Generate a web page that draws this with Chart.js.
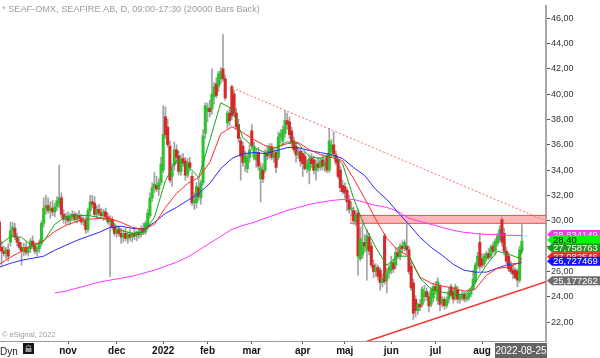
<!DOCTYPE html>
<html>
<head>
<meta charset="utf-8">
<script src="https://cdn.jsdelivr.net/npm/chart.js@4"></script>
<style>
html,body{margin:0;padding:0;background:#fff;}
#wrap{width:600px;height:358px;}
canvas{display:block;}
</style>
</head>
<body>
<div id="wrap"><canvas id="c" width="600" height="358"></canvas></div>
<script>
// ---------- DATA (daily bars, index 0 = mid-Sep 2021, index 236 = 2022-08-25) ----------
const TITLE = '* SEAF-OMX, SEAFIRE AB, D, 09:00-17:30 (20000 Bars Back)';
const LAST_DATE = '2022-08-25';

const OPEN = [
29.9,27.9,27.6,27.4,27.7,28.3,29.2,29.4,28.7,28.3,
27.9,27.6,27.9,27.5,27.8,28.4,28.0,27.6,27.8,28.2,
29.8,31.0,31.2,30.8,31.0,30.7,31.1,31.3,31.8,30.5,
30.1,30.3,30.0,30.3,30.5,30.1,30.4,30.2,29.9,30.0,
29.3,30.8,31.5,31.4,30.5,30.9,30.6,30.4,30.7,30.3,
29.9,30.1,29.5,29.0,29.3,29.0,28.7,29.0,28.6,28.9,
28.7,29.0,28.8,29.1,28.9,29.4,29.1,29.5,30.4,31.8,
32.6,32.8,32.5,33.0,34.0,38.2,37.4,35.9,33.5,34.4,
35.6,35.1,33.9,34.9,34.7,33.6,34.6,33.5,31.4,31.4,
32.6,31.8,33.0,36.9,38.6,38.9,38.8,39.8,40.8,40.6,
41.2,42.0,41.2,37.7,38.5,40.6,40.0,38.5,37.6,36.3,
35.9,34.6,34.1,35.0,37.1,35.0,34.8,35.4,33.3,34.0,
34.0,35.3,35.2,35.8,35.0,35.4,35.0,36.6,36.3,36.9,
37.9,37.8,37.1,36.3,35.9,35.2,35.5,35.3,35.1,34.1,
34.0,34.9,34.8,34.0,34.5,34.2,34.8,34.3,35.1,34.0,
35.5,36.0,35.2,34.8,34.0,32.8,32.7,32.4,31.6,30.9,
30.8,29.9,30.6,27.0,27.3,28.3,27.7,28.7,28.0,26.5,
26.0,26.3,26.1,25.1,28.8,25.3,25.9,26.1,26.7,26.5,
27.5,27.2,28.0,27.8,28.0,27.7,26.4,25.1,23.8,22.9,
23.4,23.4,24.0,24.4,24.0,23.4,23.9,24.8,23.7,24.8,
23.5,23.8,23.3,23.8,24.8,24.4,23.9,24.5,23.8,23.9,
24.2,23.8,23.9,24.2,24.6,25.2,26.5,28.3,27.0,26.6,
27.0,27.4,27.2,28.0,27.6,28.2,28.5,30.1,29.0,27.6,
27.2,26.5,26.1,26.1,26.0,25.3,27.6];

const HIGH = [
30.2,28.4,28.0,27.9,28.2,29.9,29.9,29.8,29.0,28.6,
28.3,28.2,28.3,28.0,28.6,28.8,28.3,28.0,28.5,30.0,
31.8,32.0,31.8,31.5,31.6,31.4,31.9,34.4,32.2,30.9,
30.6,30.7,30.6,30.8,30.7,30.6,30.8,30.5,30.3,30.3,
31.0,32.0,32.0,31.9,31.2,31.3,31.0,30.9,31.0,30.6,
30.4,30.3,29.8,29.6,29.6,29.4,29.3,29.4,29.1,29.3,
29.1,29.4,29.2,29.4,29.6,29.8,30.0,30.9,32.2,33.0,
33.8,33.5,33.3,35.0,39.1,39.0,38.0,36.3,34.5,36.2,
36.0,35.5,35.2,35.3,35.0,34.9,35.0,33.8,32.2,33.0,
33.4,33.2,37.2,39.3,39.3,39.5,42.0,40.9,41.3,41.8,
42.1,44.7,41.5,38.7,38.9,40.7,40.3,38.9,38.0,36.6,
36.2,35.5,35.3,36.0,37.6,36.2,35.7,35.8,34.6,34.5,
35.6,35.9,36.1,36.1,35.6,35.6,37.0,37.2,37.5,38.7,
38.5,38.2,37.4,36.6,36.2,35.8,35.7,35.5,35.4,34.8,
35.2,35.3,35.1,34.8,35.0,35.0,35.2,34.9,35.3,37.3,
36.4,37.0,35.5,35.0,34.3,33.2,33.0,32.6,32.0,31.5,
31.1,30.8,30.9,29.5,30.0,28.9,29.3,29.0,28.3,26.9,
26.6,26.5,26.3,25.8,29.0,26.2,26.5,27.2,27.0,27.9,
27.9,28.2,28.4,28.5,29.9,28.0,26.7,25.4,24.1,23.5,
23.8,24.8,24.9,24.7,24.3,24.7,25.0,25.2,25.5,25.0,
24.0,24.0,24.0,24.7,25.0,24.7,25.0,24.8,24.2,24.4,
24.4,24.2,24.4,24.7,26.1,26.7,27.5,29.0,27.4,27.4,
27.6,27.8,28.1,28.3,28.6,29.0,29.6,30.3,29.4,27.9,
27.5,26.8,26.5,26.3,26.2,28.0,29.7];

const LOW = [
27.5,26.5,27.2,27.0,26.8,28.0,28.8,28.5,28.0,27.7,
26.5,27.2,27.3,27.2,27.5,27.8,27.4,27.2,27.5,28.0,
29.5,30.5,30.6,30.2,30.4,30.3,30.8,31.0,30.2,29.8,
29.7,29.8,29.7,30.0,29.9,29.8,30.0,29.7,29.6,29.0,
29.1,30.5,31.0,30.3,30.2,30.4,30.2,30.0,30.1,29.7,
25.6,29.3,28.8,28.7,28.8,28.2,28.3,28.4,28.2,28.4,
28.3,28.5,28.4,28.6,28.7,28.9,28.9,29.3,30.2,31.5,
32.2,32.3,32.0,32.8,33.8,36.5,35.8,33.0,32.7,34.0,
34.5,33.6,33.6,34.3,33.2,33.4,33.9,31.2,30.9,31.0,
31.6,31.3,32.8,36.5,37.8,38.2,38.4,39.2,39.7,40.2,
40.8,41.0,39.5,37.3,37.5,38.0,38.2,37.2,36.2,33.2,
34.3,33.9,33.8,34.6,35.6,34.8,34.2,34.0,31.5,33.0,
33.8,34.8,34.9,34.8,34.6,33.8,34.8,36.1,36.0,36.6,
37.2,36.5,35.8,35.4,34.6,34.9,34.3,33.5,34.0,33.8,
32.9,34.2,33.7,33.2,33.9,34.0,34.0,33.9,33.8,33.8,
35.0,35.1,34.4,33.3,32.3,32.1,31.8,30.8,30.6,30.4,
29.7,29.6,25.7,26.8,27.0,27.5,25.3,27.3,26.3,25.5,
25.6,25.3,24.5,24.8,25.0,24.3,25.5,25.8,25.9,26.2,
27.0,26.9,27.5,27.6,27.4,25.8,24.5,22.2,22.4,22.6,
22.9,23.2,23.6,23.7,22.8,23.2,23.6,24.2,23.4,22.9,
23.2,23.0,23.1,23.5,24.0,23.5,23.7,23.5,23.5,23.7,
23.6,23.6,23.7,24.0,24.5,25.0,26.2,26.1,26.3,26.4,
26.8,26.9,27.0,27.4,27.3,28.0,28.3,28.0,27.3,26.6,
26.0,25.8,25.4,25.4,24.8,25.1,27.4];

const CLOSE = [
27.9,27.6,27.4,27.7,27.2,29.2,29.5,28.7,28.3,27.9,
27.6,27.9,27.5,27.8,28.4,28.0,27.6,27.8,28.2,29.8,
31.0,31.2,30.8,31.0,30.7,31.1,31.6,31.8,30.5,30.1,
30.3,30.0,30.3,30.5,30.1,30.4,30.2,29.9,30.1,29.3,
30.8,31.5,31.3,30.5,30.9,30.6,30.4,30.7,30.3,29.9,
30.1,29.5,29.0,29.3,29.0,28.7,29.0,28.6,28.9,28.7,
29.0,28.8,29.1,28.9,29.4,29.1,29.8,30.6,31.8,32.6,
32.9,32.5,33.0,34.5,36.8,36.8,36.0,33.2,34.0,35.6,
35.0,33.9,34.9,34.6,33.6,34.6,34.2,31.4,31.6,32.7,
31.9,33.0,36.7,39.1,38.9,38.6,40.0,40.6,39.9,41.6,
41.8,41.2,39.7,38.5,37.9,38.3,38.5,37.4,36.5,35.1,
34.6,35.2,35.0,35.6,35.9,35.9,35.4,34.3,34.2,33.3,
35.3,35.1,35.8,35.0,35.3,34.2,36.6,36.9,37.2,37.9,
37.6,36.8,36.2,35.6,35.2,35.4,34.7,34.5,34.1,34.5,
34.9,34.5,34.0,34.5,34.2,34.7,34.3,34.6,34.0,36.3,
36.0,35.3,34.6,33.5,32.6,32.3,32.2,31.5,30.9,31.0,
30.0,30.5,27.2,28.6,28.3,28.0,28.8,27.6,26.5,26.0,
26.3,25.6,25.1,25.4,25.2,25.9,26.3,26.7,26.2,27.5,
27.2,28.0,27.8,28.3,27.7,26.0,24.7,22.7,22.9,23.4,
23.2,24.6,24.4,24.0,23.3,24.5,24.8,24.5,25.2,23.4,
23.8,23.3,23.8,24.4,24.1,23.8,24.8,23.8,24.0,24.2,
23.8,24.0,24.3,24.6,25.4,26.5,27.2,26.4,26.5,27.2,
27.4,27.1,27.9,27.6,28.4,28.8,29.3,28.3,27.6,26.8,
26.2,26.0,25.8,25.5,25.3,27.7,28.4];

// moving averages, read at these bar indices
const MA_IDX = [0,5,10,15,20,25,30,35,40,45,50,55,60,65,70,75,80,85,90,95,100,105,110,115,120,125,130,135,140,145,150,155,160,165,170,175,180,185,190,195,200,205,210,215,220,225,230,235,236];
const MA_GREEN = [
28.06,28.77,28.69,27.98,28.37,29.71,30.34,30.42,30.42,30.26,
30.03,29.24,29.00,29.08,30.26,33.18,34.75,34.36,33.41,36.32,
39.31,38.84,36.56,35.77,35.38,35.77,36.24,36.09,35.06,34.91,
35.22,34.51,31.76,29.56,27.90,26.49,27.20,27.20,25.46,24.60,
24.36,24.21,24.13,25.15,26.49,27.59,27.35,27.04,27.76];
const MA_RED = [
26.56,27.12,27.59,28.06,28.45,29.16,29.63,29.95,30.11,30.18,
30.18,29.87,29.48,29.32,29.71,31.05,32.15,32.94,33.41,34.59,
36.87,37.42,36.95,36.40,35.93,35.77,36.09,36.17,35.61,35.22,
34.99,34.75,33.33,31.76,30.11,28.61,27.67,27.20,25.54,25.07,
24.84,24.68,24.44,24.60,25.70,26.25,26.33,26.70,27.08];
const MA_BLUE = [
26.33,26.64,26.88,27.04,27.20,27.67,28.06,28.45,28.77,29.08,
29.48,29.56,29.40,29.32,29.87,30.58,31.05,31.60,32.15,32.94,
34.12,34.91,35.30,35.38,35.30,35.54,35.77,35.77,35.54,35.38,
35.22,34.91,34.20,33.57,32.46,31.68,30.66,29.71,28.69,27.90,
27.27,26.56,26.09,25.94,25.94,26.25,26.56,26.64,26.73];
const MA_MAGENTA = [
null,null,null,null,null,24.29,24.44,24.68,24.91,25.15,
25.31,25.46,25.62,25.86,26.09,26.41,26.72,27.12,27.67,28.22,
28.77,29.32,29.63,29.87,30.19,30.50,30.81,31.05,31.29,31.45,
31.60,31.68,31.68,31.45,31.21,31.05,30.74,30.19,29.95,29.71,
29.48,29.24,29.08,29.00,28.92,28.92,28.85,28.83,28.83];

// drawn objects (bar index, price)
const RESIST_X = [105.1, 246.9], RESIST_Y = [40.49, 29.99];
const SUPPORT_X = [150, 246.9], SUPPORT_Y = [19.55, 25.177];
const ZONE_X = [158.4, 246.9], ZONE_LO = 29.79, ZONE_HI = 30.42;

// axes
const MONTH_IDX = [31,53,74,94,114,137,156,177,197,218];
const MONTH_LBL = ['nov','dec','2022','feb','mar','apr','maj','jun','jul','aug'];
const Y_TICKS = [22,24,26,28,30,32,34,36,38,40,42,44,46];
const Y_MIN = 20.505, Y_MAX = 46.92;

// price tags on the right axis
const TAG_VAL = [28.834149, 28.40, 27.758763, 27.082546, 26.727469, 25.177262];
const TAG_TXT = ['28,834149','28,40','27,758763','27,082546','26,727469','25,177262'];
const TAG_BG  = ['#ff33ff','#00ff00','#1e9a1e','#ff2020','#1010ff','#6e6e6e'];
const TAG_FG  = ['#ffffff','#000000','#ffffff','#ffffff','#ffffff','#ffffff'];

// ---------- BUILD ----------
const FONT = '"Liberation Sans", Arial, sans-serif';
const wickData = OPEN.map((o,i)=>({x:i, y:[LOW[i], HIGH[i]]}));
const bodyData = OPEN.map((o,i)=>({x:i, y:[o, CLOSE[i]]}));
const bodyColors = OPEN.map((o,i)=> CLOSE[i] >= o ? '#2bc42b' : '#d42a2a');
const maPts = arr => MA_IDX.map((x,k)=>({x, y: arr[k]}));
const line = (data, color, order, extra) => Object.assign({
  type:'line', data, borderColor: color, borderWidth: 1, pointRadius: 0,
  fill: false, tension: 0, order
}, extra || {});

const overlay = {
  id:'overlay',
  afterDraw(chart){
    const c = chart.ctx, ys = chart.scales.y;
    c.save();
    c.textAlign='left'; c.textBaseline='alphabetic';
    c.fillStyle='#9c9c9c';
    c.font = '9.2px ' + FONT;
    c.fillText(TITLE, 2, 12);
    c.font = '7.5px ' + FONT;
    c.fillText('\u00a9 eSignal, 2022', 2, 337);
    // Dyn + lock
    c.fillStyle='#222';
    c.font = '10px ' + FONT;
    c.fillText('Dyn', 0, 355);
    c.fillStyle='#151515';
    c.fillRect(23, 343, 11, 11);
    c.strokeStyle='#9a9a9a'; c.lineWidth=1.2;
    c.beginPath(); c.arc(28.5, 347.5, 2, Math.PI, 0); c.stroke();
    c.fillStyle='#9a9a9a'; c.fillRect(25.5, 348, 6, 4);
    // last date box
    c.fillStyle='#646464';
    c.fillRect(495, 343, 52, 15);
    c.fillStyle='#ffffff';
    c.font = '10px ' + FONT;
    c.textAlign='center';
    c.fillText(LAST_DATE, 521, 354);
    // tags
    c.textAlign='left'; c.textBaseline='middle';
    c.font = '9.5px ' + FONT;
    for (let k=0;k<TAG_VAL.length;k++){
      const y = ys.getPixelForValue(TAG_VAL[k]) - 1;
      c.fillStyle = TAG_BG[k];
      c.beginPath();
      c.moveTo(547, y);
      c.lineTo(552, y-4.5);
      c.lineTo(600, y-4.5);
      c.lineTo(600, y+4.5);
      c.lineTo(552, y+4.5);
      c.closePath(); c.fill();
      c.fillStyle = TAG_FG[k];
      c.fillText(TAG_TXT[k], 553, y+0.5);
    }
    c.restore();
  }
};

new Chart(document.getElementById('c'), {
  type:'bar',
  data:{ datasets:[
    line(maPts(MA_GREEN), '#1aa31a', 1),
    line(maPts(MA_RED), '#ff2a2a', 1),
    line(maPts(MA_BLUE), '#2a2aff', 1),
    line(maPts(MA_MAGENTA), '#ff33ff', 1),
    line(RESIST_X.map((x,k)=>({x, y:RESIST_Y[k]})), '#ff6a6a', 0, {borderDash:[2,2]}),
    line(SUPPORT_X.map((x,k)=>({x, y:SUPPORT_Y[k]})), '#ff3030', 0, {borderWidth:1.5}),
    { type:'bar', data: bodyData, backgroundColor: bodyColors, barThickness: 2.4, grouped:false, order: 2 },
    { type:'bar', data: wickData, backgroundColor: '#a2a2a2', barThickness: 1, grouped:false, order: 3 },
    line(ZONE_X.map(x=>({x, y:ZONE_HI})), '#ff4a4a', 4, {fill:'+1', backgroundColor:'rgba(255,110,110,0.5)'}),
    line(ZONE_X.map(x=>({x, y:ZONE_LO})), '#ff4a4a', 5)
  ]},
  options:{
    responsive:false, animation:false, devicePixelRatio:1, events:[],
    layout:{ padding:0 },
    plugins:{ legend:{display:false}, tooltip:{enabled:false} },
    scales:{
      x:{
        type:'linear', min:0.27, max:246.9, offset:false,
        afterBuildTicks: s => { s.ticks = MONTH_IDX.map(v=>({value:v})); },
        afterFit: s => { s.height = 17; },
        grid:{ display:true, drawOnChartArea:false, drawTicks:true, tickLength:3, tickColor:'#555', offset:false },
        border:{ display:true, color:'#9a9a9a', width:1 },
        ticks:{ autoSkip:false, maxRotation:0, padding:1, color:'#111',
          font:{ family: FONT, size:10, weight:'bold' },
          callback: (v, i) => MONTH_LBL[i] }
      },
      y:{
        type:'linear', position:'right', min:Y_MIN, max:Y_MAX,
        afterBuildTicks: s => { s.ticks = Y_TICKS.map(v=>({value:v})); },
        afterFit: s => { s.width = 54; },
        grid:{ display:true, drawOnChartArea:false, drawTicks:true, tickLength:4, tickColor:'#555' },
        border:{ display:true, color:'#a8a8a8', width:2 },
        ticks:{ padding:1, color:'#333', font:{ family: FONT, size:9 },
          callback: v => v.toFixed(2).replace('.', ',') }
      }
    }
  },
  plugins:[overlay]
});
</script>
</body>
</html>
